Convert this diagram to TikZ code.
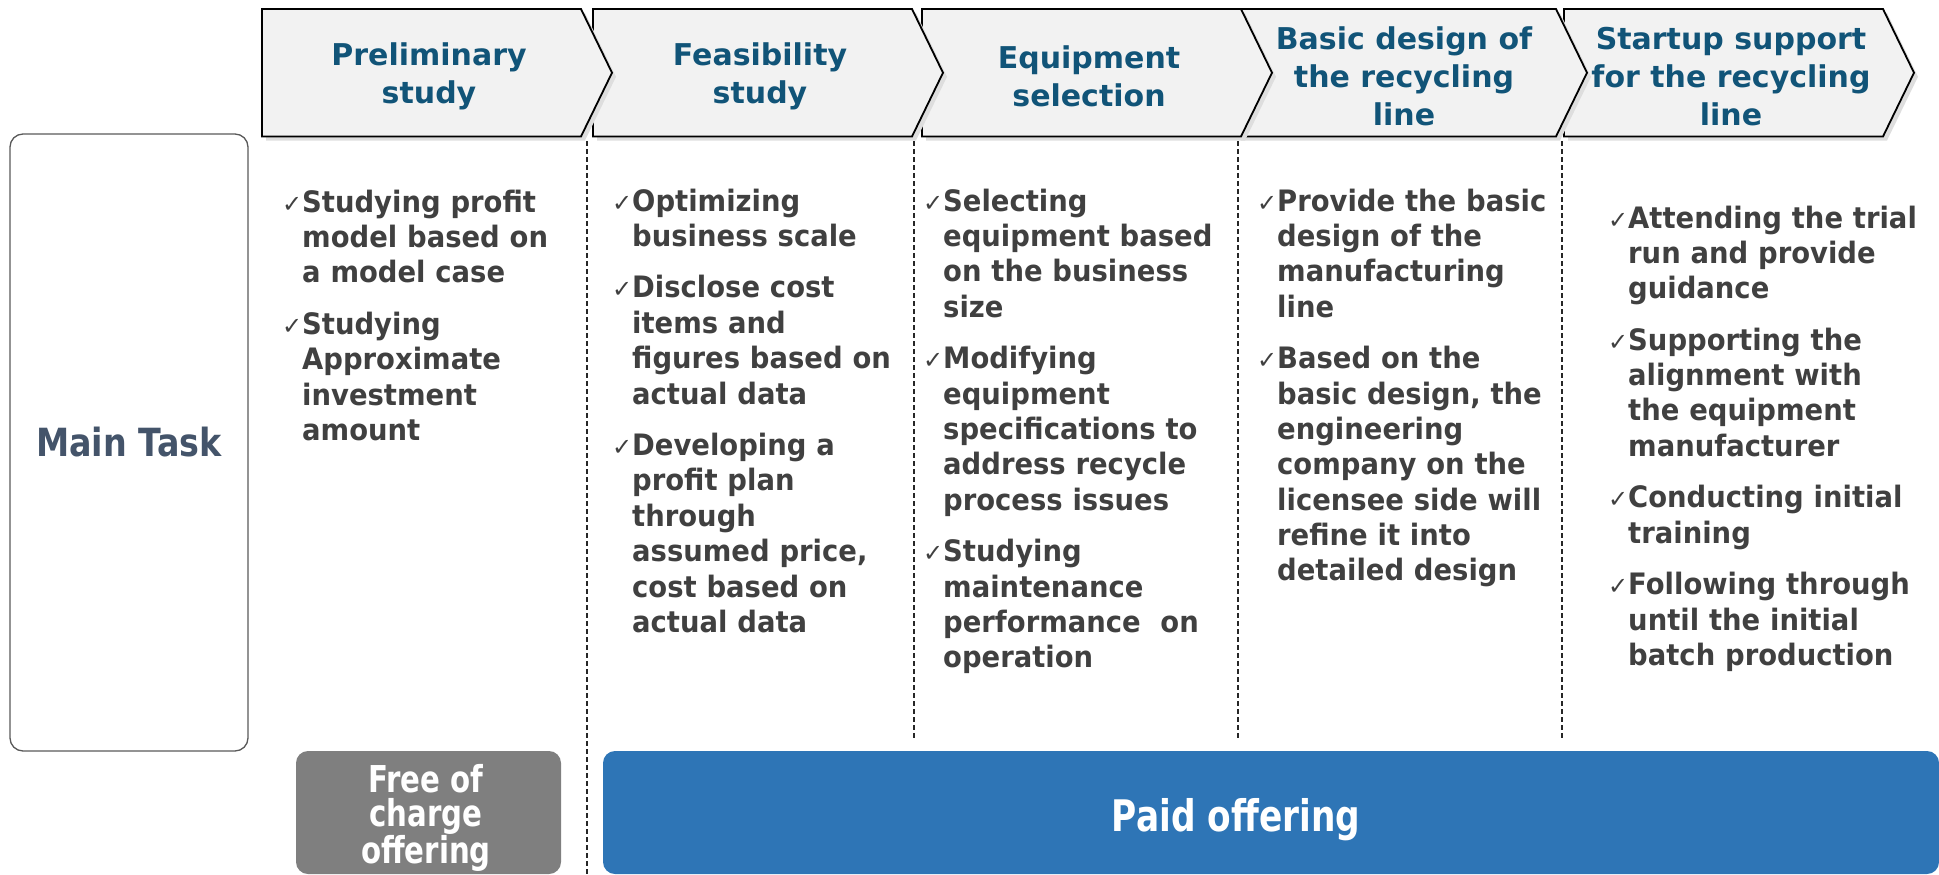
\documentclass[tikz,border=0pt]{standalone}
\usepackage{fontspec}

\newfontfamily\headfam{DejaVu Sans}
\newfontfamily\bodyfam{DejaVu Sans}[FakeStretch=0.93]
\newfontfamily\taskfam{DejaVu Sans}[FakeStretch=0.86]
\newfontfamily\offerfam{DejaVu Sans}[FakeStretch=0.79]
\newfontfamily\tickfam{DejaVu Sans}

\definecolor{headblue}{RGB}{17,84,120}
\definecolor{bodygray}{RGB}{64,64,64}
\definecolor{taskslate}{RGB}{68,84,106}
\definecolor{chevfill}{RGB}{242,242,242}
\definecolor{paidblue}{RGB}{46,117,182}
\definecolor{freegray}{RGB}{127,127,127}

\newcommand*{\chevtop}{9}
\newcommand*{\chevbot}{136.5}
\newcommand*{\chevmid}{72.75}
\newcommand*{\chevlen}{350}
\newcommand*{\chevtip}{31}
\newcommand*{\gap}{16pt}
\newcommand*{\chk}{\leavevmode\llap{\makebox[20pt][l]{\tickfam\fontsize{24}{24}\selectfont ✓}}}

\begin{document}
\begin{tikzpicture}
[
	x=1pt, y=-1pt,
	chevron/.style={draw=black, line width=1.8pt, fill=chevfill, line join=miter},
	shade/.style={fill=black!13},
	phase/.style={font=\headfam\bfseries\fontsize{30}{38}\selectfont, text=headblue, align=center},
	tasks/.style={font=\bodyfam\bfseries\fontsize{29.5}{35.4}\selectfont, text=bodygray, text width=310pt, align=left, inner sep=0pt, anchor=base west},
	divider/.style={line width=1.1pt, dash pattern=on 5pt off 3pt, black!85},
	offer/.style={rounded corners=12pt, inner sep=0pt, minimum height=123pt},
	offertext/.style={text=white, inner sep=0pt, align=center}
]

	\useasboundingbox (0,0) rectangle (1939,875);

	% phases, drawn right to left so each tip lies over the next box
	\foreach \lft/\name/\lbl in {
		1564/startup/{Startup support\\for the recycling\\line},
		1237/basic/{Basic design of\\the recycling\\line},
		922/equip/{Equipment\\selection},
		593/feas/{Feasibility\\study},
		262/prelim/{Preliminary\\study}}
	{
		\fill[shade] (\lft+4,\chevtop+4) -- (\lft+\chevlen-\chevtip+4,\chevtop+4) -- (\lft+\chevlen+4,\chevmid+4)
			-- (\lft+\chevlen-\chevtip+4,\chevbot+4) -- (\lft+4,\chevbot+4) -- cycle;
		\draw[chevron] (\lft,\chevtop) -- (\lft+\chevlen-\chevtip,\chevtop) -- (\lft+\chevlen,\chevmid)
			-- (\lft+\chevlen-\chevtip,\chevbot) -- (\lft,\chevbot) -- cycle;
		\node[phase] (\name) at (\lft+167,\chevmid+4) {\lbl};
	}

	% column separators
	\draw[divider] (587,141) -- (587,876);
	\draw[divider] (914,141) -- (914,740);
	\draw[divider] (1238,141) -- (1238,740);
	\draw[divider] (1562,141) -- (1562,740);

	% row label
	\node[draw=black!65, line width=1.3pt, rounded corners=13pt, minimum width=238pt, minimum height=617pt,
		inner sep=0pt, font=\taskfam\bfseries\fontsize{38.8}{40}\selectfont, text=taskslate] (maintask) at (129,442.5) {Main Task};

	% tasks per phase
	\node[tasks] (prelimtasks) at (302,212) {\chk Studying profit\\model based on\\a model case\\[\gap]
		\chk Studying\\Approximate\\investment\\amount};
	\node[tasks] (feastasks) at (632,211) {\chk Optimizing\\business scale\\[\gap]
		\chk Disclose cost\\items and\\figures based on\\actual data\\[\gap]
		\chk Developing a\\profit plan\\through\\assumed price,\\cost based on\\actual data};
	\node[tasks] (equiptasks) at (943,211) {\chk Selecting\\equipment based\\on the business\\size\\[\gap]
		\chk Modifying\\equipment\\specifications to\\address recycle\\process issues\\[\gap]
		\chk Studying\\maintenance\\performance~ on\\operation};
	\node[tasks] (basictasks) at (1277,211) {\chk Provide the basic\\design of the\\manufacturing\\line\\[\gap]
		\chk Based on the\\basic design, the\\engineering\\company on the\\licensee side will\\refine it into\\detailed design};
	\node[tasks] (startuptasks) at (1628,228) {\chk Attending the trial\\run and provide\\guidance\\[\gap]
		\chk Supporting the\\alignment with\\the equipment\\manufacturer\\[\gap]
		\chk Conducting initial\\training\\[\gap]
		\chk Following through\\until the initial\\batch production};

	% offerings
	\node[offer, fill=freegray, minimum width=265pt] (free) at (428.5,812.5) {};
	\node[offertext, font=\offerfam\bfseries\fontsize{37}{34.5}\selectfont] (freetext) at (426,818) {Free of\\charge\\offering};
	\node[offer, fill=paidblue, minimum width=1336pt] (paid) at (1271,812.5) {};
	\node[offertext, font=\offerfam\bfseries\fontsize{43.5}{45}\selectfont, anchor=base] (paidtext) at (1236,831.7) {Paid offering};

\end{tikzpicture}
\end{document}
